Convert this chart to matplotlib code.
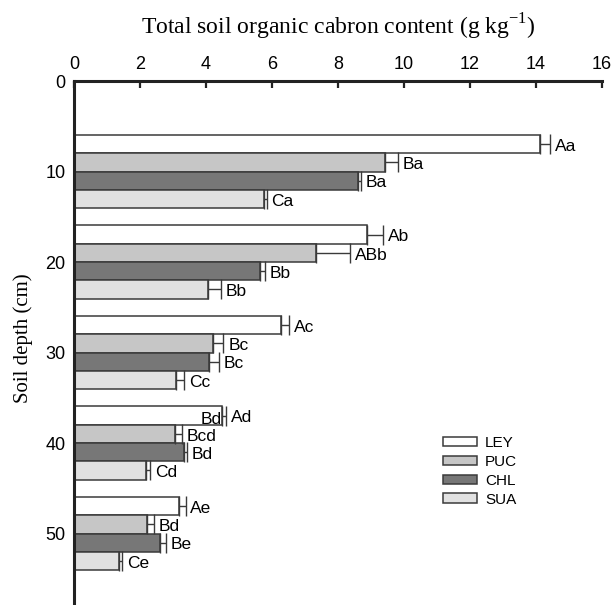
#!/usr/bin/env python3

import numpy as np
import matplotlib.pyplot as plt

# depth groups (cm) and treatments
depths = [10, 20, 30, 40, 50]
treatments = ['LEY', 'PUC', 'CHL', 'SUA']
colors = ['#ffffff', '#c6c6c6', '#777777', '#e1e1e1']

# total soil organic carbon (g/kg), one list per treatment, by depth
ley = [14.12, 8.89, 6.27, 4.50, 3.18]
puc = [9.42, 7.32, 4.22, 3.06, 2.20]
chl = [8.61, 5.65, 4.10, 3.33, 2.60]
sua = [5.76, 4.06, 3.10, 2.18, 1.36]

# standard errors (only the upper side is drawn)
ley_err = [0.31, 0.47, 0.24, 0.11, 0.20]
puc_err = [0.40, 1.04, 0.31, 0.21, 0.21]
chl_err = [0.08, 0.14, 0.28, 0.10, 0.19]
sua_err = [0.08, 0.40, 0.24, 0.13, 0.10]

# significance letters
ley_lab = ['Aa', 'Ab', 'Ac', 'Ad', 'Ae']
puc_lab = ['Ba', 'ABb', 'Bc', 'Bcd', 'Bd']
chl_lab = ['Ba', 'Bb', 'Bc', 'Bd', 'Be']
sua_lab = ['Ca', 'Bb', 'Cc', 'Cd', 'Ce']


def main():
    plt.rcParams['font.family'] = ['Liberation Sans', 'DejaVu Sans']

    fig = plt.figure(figsize=(6.15, 6.05), dpi=100)
    ax = fig.add_axes([0.1203, 0.0, 0.8585, 0.866])

    vals = [ley, puc, chl, sua]
    errs = [ley_err, puc_err, chl_err, sua_err]
    labs = [ley_lab, puc_lab, chl_lab, sua_lab]

    h = 2.02
    for i, name in enumerate(treatments):
        y = np.array(depths) + (i - 1.5) * h
        v = np.array(vals[i])
        e = np.array(errs[i])
        ax.barh(y, v, height=h, color=colors[i], edgecolor='#3a3a3a',
                linewidth=1.1, label=name, zorder=2)
        ax.errorbar(v, y, xerr=[np.zeros_like(e), e], fmt='none',
                    ecolor='#3a3a3a', elinewidth=1.0, capsize=7,
                    capthick=1.0, zorder=3)
        for yy, vv, ee, t in zip(y, v, e, labs[i]):
            ax.annotate(t, (vv + ee, yy), xytext=(3.5, -0.5),
                        textcoords='offset points', ha='left',
                        va='center_baseline', fontsize=12.5)

    # stray letter drawn over the end of the 40 cm LEY bar
    ax.annotate('Bd', (ley[3], depths[3] - 1.5 * h), xytext=(-0.5, -1.5),
                textcoords='offset points', ha='right',
                va='center_baseline', fontsize=12.5)

    ax.set_xlim(0, 16)
    ax.set_ylim(57.9, 0)
    ax.set_xticks(np.arange(0, 17, 2))
    ax.set_yticks([0, 10, 20, 30, 40, 50])
    ax.xaxis.tick_top()
    ax.xaxis.set_label_position('top')
    ax.tick_params(axis='x', direction='in', length=5, width=1.6,
                   labelsize=13, pad=6, color='#222222')
    ax.tick_params(axis='y', length=0, labelsize=13, pad=6)
    for s in ['right', 'bottom']:
        ax.spines[s].set_visible(False)
    for s in ['top', 'left']:
        ax.spines[s].set_linewidth(2.2)
        ax.spines[s].set_color('#222222')

    ax.set_xlabel('Total soil organic cabron content (g kg$^{\\mathregular{-1}}$)',
                  family='Liberation Serif', fontsize=17, labelpad=15)
    ax.set_ylabel('Soil depth (cm)', family='Liberation Serif', fontsize=15)
    ax.yaxis.set_label_coords(-0.078, 0.5086)

    ax.legend(loc='upper left', bbox_to_anchor=(442.7 / 615, 1 - 436 / 605),
              bbox_transform=fig.transFigure, frameon=False,
              fontsize=11, handlelength=2.22, handleheight=0.6,
              labelspacing=0.32, handletextpad=0.55, borderpad=0,
              borderaxespad=0)

    fig.savefig('out.png', dpi=100)


if __name__ == "__main__":
    main()
